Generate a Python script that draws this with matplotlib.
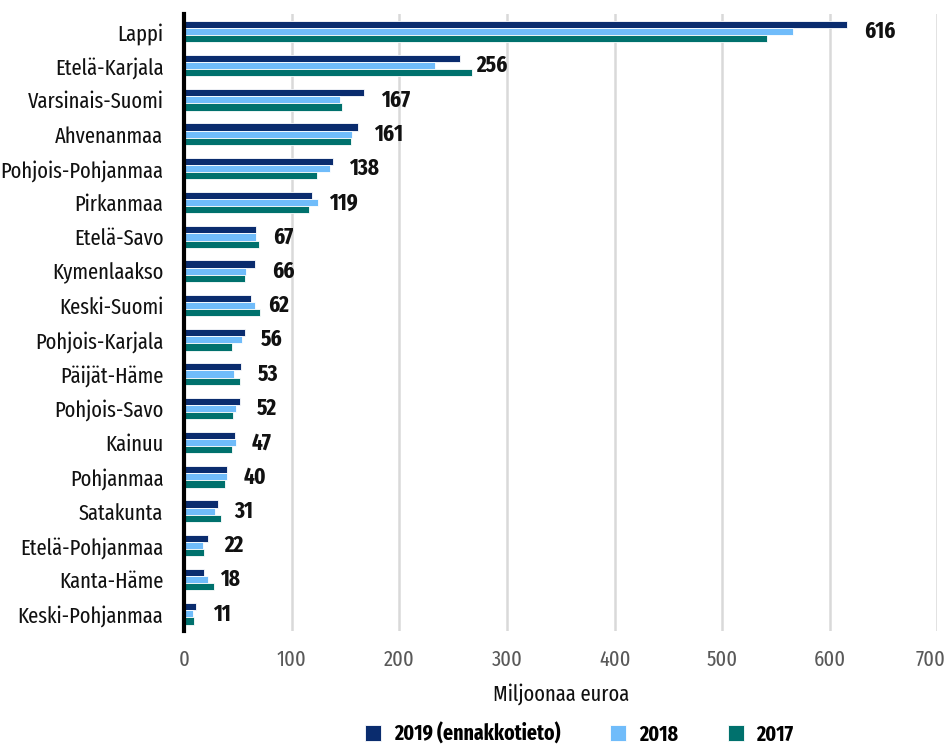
import matplotlib
matplotlib.use("Agg")
import matplotlib.pyplot as plt
from matplotlib import font_manager as fm
import matplotlib.transforms as mtransforms
import numpy as np

available = {f.name for f in fm.fontManager.ttflist}
preferred = ["Fira Sans Extra Condensed", "Fira Sans Condensed", "PT Sans Narrow",
             "Roboto Condensed", "Open Sans Condensed", "Barlow Semi Condensed",
             "Archivo Narrow", "Liberation Sans Narrow", "Encode Sans Condensed"]
chosen = next((p for p in preferred if p in available), "DejaVu Sans")
plt.rcParams['font.family'] = [chosen, 'DejaVu Sans']

regions = ["Lappi", "Etelä-Karjala", "Varsinais-Suomi", "Ahvenanmaa", "Pohjois-Pohjanmaa",
           "Pirkanmaa", "Etelä-Savo", "Kymenlaakso", "Keski-Suomi", "Pohjois-Karjala",
           "Päijät-Häme", "Pohjois-Savo", "Kainuu", "Pohjanmaa", "Satakunta",
           "Etelä-Pohjanmaa", "Kanta-Häme", "Keski-Pohjanmaa"]
v2019 = [616, 256, 167, 161, 138, 119, 67, 66, 62, 56, 53, 52, 47, 40, 31, 22, 18, 11]
v2018 = [566, 233, 145, 156, 135, 124, 67, 57, 66, 54, 46, 48, 48, 40, 29, 17, 22, 8]
v2017 = [542, 267, 147, 155, 123, 116, 69, 56, 70, 44, 52, 45, 44, 38, 34, 18, 28, 9]
series_names = ["2019 (ennakkotieto)", "2018", "2017"]
colors = ["#0A2C6E", "#70BCFA", "#00716D"]
x_ticks = [0, 100, 200, 300, 400, 500, 600, 700]

fig = plt.figure(figsize=(9.45, 7.49), dpi=100)
ax = fig.add_axes([0.195, 0.1575, 0.797, 0.8235])

n = len(regions)
y = np.arange(n)
h = 0.21
for i, (vals, c, name) in enumerate(zip([v2019, v2018, v2017], colors, series_names)):
    ax.barh(y + (i - 1) * h, vals, height=h, color=c, edgecolor="white",
            linewidth=0.6, label=name, zorder=3)

for yi, v in zip(y, v2019):
    ax.annotate(str(v), xy=(v, yi), xytext=(12, 0), textcoords="offset points",
                ha="left", va="center", fontsize=16.5, fontweight="bold", color="#111111")

ax.set_ylim(n - 0.5, -0.5)
ax.set_xlim(0, 700)
ax.set_yticks(y)
ax.set_yticklabels(regions, fontsize=16, color="#111111")
ax.set_xticks(x_ticks)
ax.set_xticklabels([str(t) for t in x_ticks], fontsize=16, color="#595959")
ax.tick_params(axis="x", length=0, pad=13)
ax.tick_params(axis="y", length=0, pad=15)
last = ax.get_xticklabels()[-1]
last.set_transform(last.get_transform() + mtransforms.ScaledTranslation(-7 / 100, 0, fig.dpi_scale_trans))
ax.xaxis.grid(True, color="#D9D9D9", linewidth=1.8, zorder=0)
ax.set_axisbelow(True)
for s in ["top", "right", "bottom"]:
    ax.spines[s].set_visible(False)
ax.spines["left"].set_linewidth(3)
ax.spines["left"].set_color("black")
ax.spines["left"].set_zorder(5)
ax.set_xlabel("Miljoonaa euroa", fontsize=16, color="#111111", labelpad=9)

fig.legend(loc="lower center", bbox_to_anchor=(0.613, -0.021), ncol=3,
           frameon=False, handlelength=0.75, handleheight=0.75,
           columnspacing=2.3, handletextpad=0.6,
           prop={"family": [chosen, "DejaVu Sans"], "weight": "bold", "size": 15.5})

fig.savefig("out.png", dpi=100)
